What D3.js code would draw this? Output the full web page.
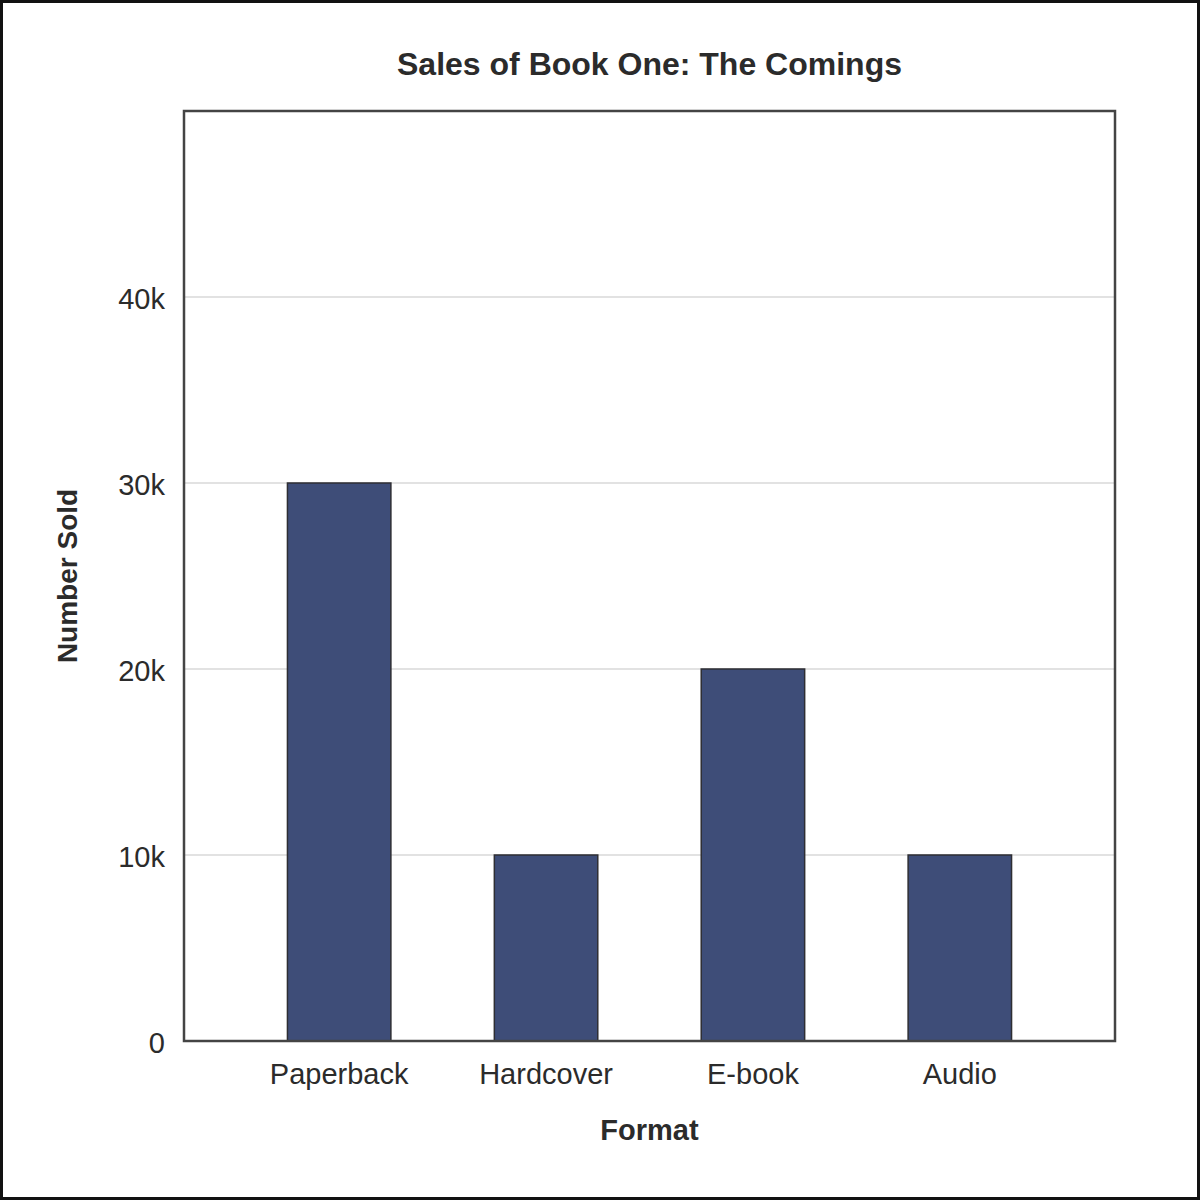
<!DOCTYPE html>
<html>
<head>
<meta charset="utf-8">
<script src="https://cdn.jsdelivr.net/npm/d3@7"></script>
<style>
  html, body { margin: 0; padding: 0; background: #fff; }
  svg { display: block; }
  text { font-family: "Liberation Sans", Arial, Helvetica, sans-serif; fill: #2b2b2b; }
</style>
</head>
<body>
<svg id="chart" width="1200" height="1200"></svg>
<script>
// ── Data ──
const formats = ["Paperback", "Hardcover", "E-book", "Audio"];
const sold = [30000, 10000, 20000, 10000];
const yTicks = [0, 10000, 20000, 30000, 40000];
const yTickLabels = ["0", "10k", "20k", "30k", "40k"];

const W = 1200, H = 1200;
const plot = { left: 184, right: 1115, top: 111, bottom: 1041 };

const svg = d3.select("#chart");

// outer frame round the whole picture
svg.append("rect")
    .attr("x", 1.5).attr("y", 1.5)
    .attr("width", W - 3).attr("height", H - 3)
    .style("fill", "#fff")
    .style("stroke", "#111")
    .style("stroke-width", 3);

const x = d3.scaleBand()
    .domain(formats)
    .range([plot.left, plot.right])
    .paddingInner(0.5)
    .paddingOuter(0.5);

const y = d3.scaleLinear()
    .domain([0, 50000])
    .range([plot.bottom, plot.top]);

// ── Gridlines ──
svg.append("g")
    .selectAll("line")
    .data(yTicks.filter(d => d > 0))
    .join("line")
    .attr("x1", plot.left).attr("x2", plot.right)
    .attr("y1", d => y(d)).attr("y2", d => y(d))
    .style("stroke", "#d9d9d9")
    .style("stroke-width", 1.5);

// ── Bars ──
svg.append("g")
    .selectAll("rect")
    .data(formats)
    .join("rect")
    .attr("x", d => x(d))
    .attr("width", x.bandwidth())
    .attr("y", (d, i) => y(sold[i]))
    .attr("height", (d, i) => y(0) - y(sold[i]))
    .style("fill", "#3e4d78")
    .style("stroke", "#2e2e33")
    .style("stroke-width", 1.5);

// ── Plot frame ──
svg.append("rect")
    .attr("x", plot.left).attr("y", plot.top)
    .attr("width", plot.right - plot.left)
    .attr("height", plot.bottom - plot.top)
    .style("fill", "none")
    .style("stroke", "#444")
    .style("stroke-width", 2.5);

// ── Y axis labels ──
const yAxis = d3.axisLeft(y)
    .tickValues(yTicks)
    .tickFormat((d, i) => yTickLabels[i])
    .tickSize(0)
    .tickPadding(19);

svg.append("g")
    .attr("transform", `translate(${plot.left},0)`)
    .call(yAxis)
    .call(g => g.select(".domain").remove())
    .call(g => g.selectAll("text")
        .attr("dy", "0.4em")
        .style("font-size", "29px")
        .style("fill", "#2b2b2b"));

// ── X axis labels ──
const xAxis = d3.axisBottom(x)
    .tickSize(0)
    .tickPadding(22);

svg.append("g")
    .attr("transform", `translate(0,${plot.bottom})`)
    .call(xAxis)
    .call(g => g.select(".domain").remove())
    .call(g => g.selectAll("text")
        .style("font-size", "29px")
        .style("fill", "#2b2b2b"));

// ── Titles ──
const cx = (plot.left + plot.right) / 2;

svg.append("text")
    .attr("x", cx).attr("y", 75)
    .attr("text-anchor", "middle")
    .style("font-size", "32px")
    .style("font-weight", "bold")
    .text("Sales of Book One: The Comings");

svg.append("text")
    .attr("x", cx).attr("y", 1140)
    .attr("text-anchor", "middle")
    .style("font-size", "29px")
    .style("font-weight", "bold")
    .text("Format");

svg.append("text")
    .attr("transform", `translate(77,${(plot.top + plot.bottom) / 2}) rotate(-90)`)
    .attr("text-anchor", "middle")
    .style("font-size", "28px")
    .style("font-weight", "bold")
    .text("Number Sold");
</script>
</body>
</html>
